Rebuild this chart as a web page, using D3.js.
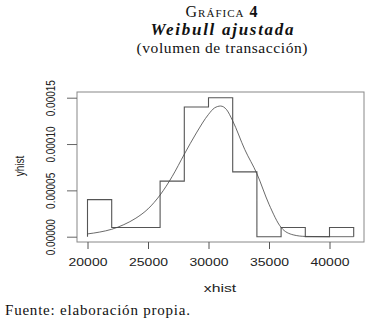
<!DOCTYPE html>
<html>
<head>
<meta charset="utf-8">
<script src="https://cdn.jsdelivr.net/npm/d3@7"></script>
<style>
    body { margin: 0; background: #fff; }
    svg { display: block; }
    .title { font-family: "Liberation Serif", "DejaVu Serif", serif; fill: #111; }
    .axis text { font-family: "Liberation Sans", Arial, sans-serif; fill: #222; }
</style>
</head>
<body>
<div id="chart"></div>
<script>
// histograma de densidad (bordes de clase y altura)
var binEdges = [20000, 22000, 24000, 26000, 28000, 30000, 32000, 34000, 36000, 38000, 40000, 42000];
var binDensity = [0.00004, 0.00001, 0.00001, 0.00006, 0.00014, 0.00015, 0.00007, 0, 0.00001, 0, 0.00001];

// curva weibull
var curveX = [20000, 21000, 22000, 23000, 24000, 25000, 26000, 27000, 28000, 29000, 30000,
              30500, 31000, 31500, 32000, 33000, 34000, 35000, 36000, 37000, 38000, 40000, 42000];
var curveY = [0.000003, 0.000005, 0.000008, 0.000013, 0.00002, 0.00003, 0.000045, 0.000065, 0.000089, 0.000112, 0.000132,
              0.000139, 0.000141, 0.000137, 0.000125, 0.000094, 0.000068, 0.000035, 0.00001, 0.000002, 0.0000003, 0, 0];

var xTicks = [20000, 25000, 30000, 35000, 40000];
var yTicks = [0, 0.00005, 0.00010, 0.00015];

var W = 379, H = 324;
var box = { left: 77, right: 364, top: 92, bottom: 242 };

var svg = d3.select('#chart')
    .append('svg')
    .attr('width', W)
    .attr('height', H)
    ;

var x = d3.scaleLinear().domain([20000, 40000]).range([87.5, 329.5]);
var y = d3.scaleLinear().domain([0, 0.00015]).range([236.7, 97.7]);

// titulos
svg.append('text')
    .attr('class', 'title')
    .attr('x', 222)
    .attr('y', 17)
    .attr('text-anchor', 'middle')
    .style('font-size', '16px')
    .style('font-variant', 'small-caps')
    .style('letter-spacing', '1px')
    .html('Gráfica <tspan style="font-weight:bold">4</tspan>')
    ;
svg.append('text')
    .attr('class', 'title')
    .attr('x', 222)
    .attr('y', 35)
    .attr('text-anchor', 'middle')
    .style('font-size', '17px')
    .style('font-weight', 'bold')
    .style('font-style', 'italic')
    .attr('textLength', 143)
    .text('Weibull ajustada')
    ;
svg.append('text')
    .attr('class', 'title')
    .attr('x', 222)
    .attr('y', 53)
    .attr('text-anchor', 'middle')
    .style('font-size', '15.5px')
    .attr('textLength', 171)
    .text('(volumen de transacción)')
    ;
svg.append('text')
    .attr('class', 'title')
    .attr('x', 5)
    .attr('y', 315)
    .style('font-size', '15px')
    .attr('textLength', 185)
    .text('Fuente: elaboración propia.')
    ;

// caja
svg.append('rect')
    .attr('x', box.left)
    .attr('y', box.top)
    .attr('width', box.right - box.left)
    .attr('height', box.bottom - box.top)
    .attr('fill', 'none')
    .attr('stroke', '#888')
    .attr('stroke-width', 1)
    ;

// eje x
var gx = svg.append('g')
    .attr('class', 'axis')
    .attr('transform', 'translate(0,' + box.bottom + ')')
    .call(d3.axisBottom(x).tickValues(xTicks).tickSize(7).tickPadding(10).tickSizeOuter(0).tickFormat(d3.format('d')))
    ;
gx.select('.domain').remove();
gx.selectAll('line').attr('stroke', '#555');
gx.selectAll('text')
    .style('font-size', '10px')
    .attr('transform', 'scale(1.4,1)')
    ;

// eje y
var gy = svg.append('g')
    .attr('class', 'axis')
    .attr('transform', 'translate(' + box.left + ',0)')
    .call(d3.axisLeft(y).tickValues(yTicks).tickSize(10).tickSizeOuter(0).tickFormat(d3.format('.5f')))
    ;
gy.select('.domain').remove();
gy.selectAll('line').attr('stroke', '#666');
gy.selectAll('text')
    .style('font-size', '10px')
    .attr('x', 0)
    .attr('dy', 0)
    .attr('text-anchor', 'middle')
    .attr('transform', 'translate(-22,0) scale(1.3,1) rotate(-90)')
    ;

// etiquetas de ejes
svg.append('text')
    .attr('x', 0)
    .attr('y', 0)
    .attr('text-anchor', 'middle')
    .attr('transform', 'translate(220,292) scale(1.5,1)')
    .style('font-family', '"Liberation Sans", Arial, sans-serif')
    .style('font-size', '10.5px')
    .style('fill', '#222')
    .text('xhist')
    ;
svg.append('text')
    .attr('x', 0)
    .attr('y', 0)
    .attr('text-anchor', 'middle')
    .attr('transform', 'translate(24,166) scale(1.3,1) rotate(-90)')
    .style('font-family', '"Liberation Sans", Arial, sans-serif')
    .style('font-size', '10px')
    .style('fill', '#222')
    .text('yhist')
    ;

// histograma en escalera
var steps = [[binEdges[0], 0]];
binDensity.forEach(function(d, i) {
    steps.push([binEdges[i], d]);
    steps.push([binEdges[i + 1], d]);
});
steps.push([binEdges[binEdges.length - 1], 0]);

svg.append('path')
    .datum(steps)
    .attr('fill', 'none')
    .attr('stroke', '#555')
    .attr('stroke-width', 1.1)
    .attr('d', d3.line()
        .x(function(d) { return x(d[0]); })
        .y(function(d) { return y(d[1]); })
    )
    ;

// curva ajustada
var curvePts = curveX.map(function(v, i) { return [v, curveY[i]]; });
svg.append('path')
    .datum(curvePts)
    .attr('fill', 'none')
    .attr('stroke', '#444')
    .attr('stroke-width', 0.8)
    .attr('d', d3.line()
        .curve(d3.curveMonotoneX)
        .x(function(d) { return x(d[0]); })
        .y(function(d) { return y(d[1]); })
    )
    ;
</script>
</body>
</html>
